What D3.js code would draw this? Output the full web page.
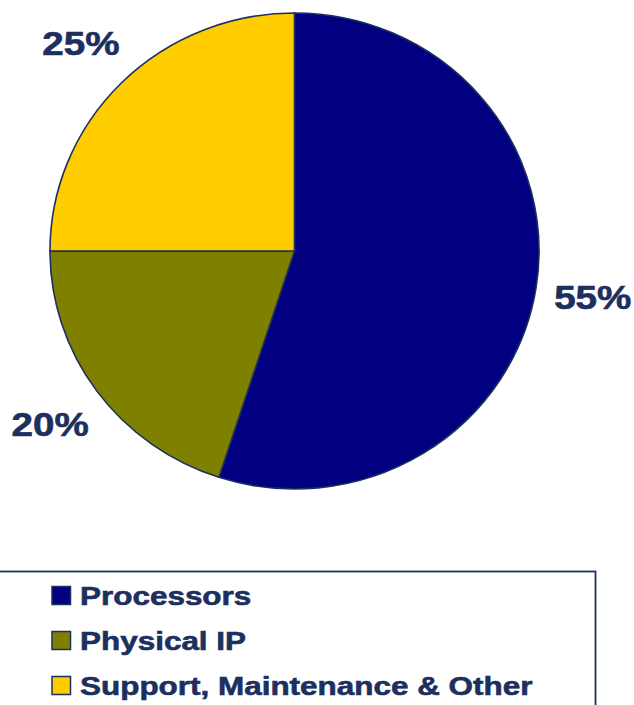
<!DOCTYPE html>
<html>
<head>
<meta charset="utf-8">
<script src="https://cdn.jsdelivr.net/npm/d3@7"></script>
<style>
  body { margin: 0; background: #fff; }
  svg { display: block; }
  text { font-family: "Liberation Sans", Arial, sans-serif; font-weight: bold; fill: #1c2f5e; stroke: #1c2f5e; stroke-width: 0.6px; }
</style>
</head>
<body>
<div id="chart"></div>
<script>
// Revenue split by business segment
const categories = ["Processors", "Physical IP", "Support, Maintenance & Other"];
const shares = [55, 20, 25];
const colours = ["#000080", "#808000", "#ffcc00"];

const width = 634, height = 705;
const cx = 294.5, cy = 251;
const rx = 244.5, ry = 238;
const labelRadius = 302;
const ink = "#1c2f5e";

const svg = d3.select("#chart").append("svg")
    .attr("width", width)
    .attr("height", height);

const pie = d3.pie().sort(null).value(d => d)(shares);
const arc = d3.arc().innerRadius(0).outerRadius(rx);

// the pie is slightly squashed vertically, so draw it as a circle and scale y
const pieG = svg.append("g")
    .attr("transform", "translate(" + cx + "," + cy + ") scale(1," + (ry / rx) + ")");

pieG.selectAll("path")
    .data(pie)
    .enter().append("path")
    .attr("d", arc)
    .attr("fill", (d, i) => colours[i])
    .attr("stroke", ink)
    .attr("stroke-width", 1.6)
    .attr("vector-effect", "non-scaling-stroke");

// percentage labels outside each slice
svg.selectAll("text.pct")
    .data(pie)
    .enter().append("text")
    .attr("class", "pct")
    .attr("text-anchor", "middle")
    .attr("font-size", 33)
    .attr("transform", d => {
        const a = (d.startAngle + d.endAngle) / 2;
        const x = cx + labelRadius * Math.sin(a);
        const y = cy - labelRadius * Math.cos(a) * (ry / rx) + 12;
        return "translate(" + x + "," + y + ") scale(1.17,1)";
    })
    .text(d => d.data + "%");

// legend box, left side runs off the page
svg.append("rect")
    .attr("x", -5)
    .attr("y", 571.5)
    .attr("width", 600.5)
    .attr("height", 200)
    .attr("fill", "none")
    .attr("stroke", ink)
    .attr("stroke-width", 1.8);

const legend = svg.selectAll("g.item")
    .data(categories)
    .enter().append("g")
    .attr("class", "item")
    .attr("transform", (d, i) => "translate(0," + (586 + i * 45) + ")");

legend.append("rect")
    .attr("x", 52)
    .attr("y", 0.5)
    .attr("width", 18.5)
    .attr("height", 18)
    .attr("fill", (d, i) => colours[i])
    .attr("stroke", ink)
    .attr("stroke-width", 1.5);

legend.append("text")
    .attr("font-size", 26)
    .attr("transform", "translate(80,18.5) scale(1.21,1)")
    .text(d => d);
</script>
</body>
</html>
